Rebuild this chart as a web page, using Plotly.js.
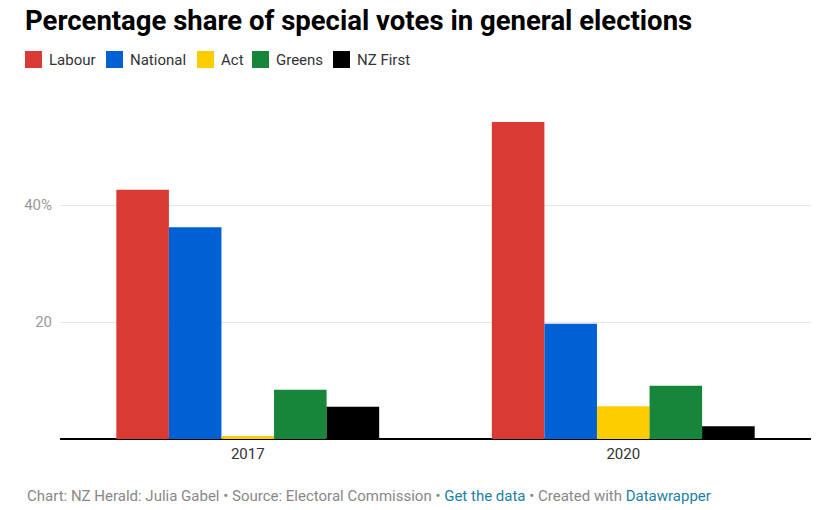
<!DOCTYPE html>
<html>
<head>
<meta charset="utf-8">
<script src="https://cdn.plot.ly/plotly-3.0.1.min.js"></script>
<style>
  html, body { margin: 0; padding: 0; background: #fff; }
  #chart { width: 830px; height: 510px; }
</style>
</head>
<body>
<div id="chart"></div>
<script>
const years = ["2017", "2020"];
const parties = ["Labour", "National", "Act", "Greens", "NZ First"];
const labour = [42.6, 54.2];
const national = [36.2, 19.7];
const act = [0.5, 5.6];
const greens = [8.4, 9.1];
const nzFirst = [5.5, 2.2];
const colors = ["#d93a34", "#0061d5", "#fecd00", "#17863a", "#000000"];
const yTickVals = [20, 40];
const yTickText = ["20", "40%"];

const series = [labour, national, act, greens, nzFirst];
const traces = series.map((vals, i) => ({
  type: "bar",
  name: parties[i],
  x: years,
  y: vals,
  marker: { color: colors[i], line: { width: 0 } },
  hoverinfo: "none",
  showlegend: false
}));

const font = "Roboto, 'Noto Sans', sans-serif";
const W = 830, H = 510;
const M = { l: 60, r: 19, t: 90, b: 71 };
const PW = W - M.l - M.r, PH = H - M.t - M.b;
const px2x = px => (px - M.l) / PW;
const px2y = py => (H - M.b - py) / PH;

// legend layout (pixel positions of each key's square)
const legendSquareX = [25, 106, 197, 252, 333];
const legendSize = 17, legendTop = 51, legendTextGap = 5;

const shapes = parties.map((p, i) => ({
  type: "rect", xref: "paper", yref: "paper",
  x0: px2x(legendSquareX[i]), x1: px2x(legendSquareX[i] + legendSize),
  y0: px2y(legendTop + legendSize), y1: px2y(legendTop),
  fillcolor: colors[i], line: { width: 0 }
}));

const annotations = parties.map((p, i) => ({
  xref: "paper", yref: "paper",
  x: px2x(legendSquareX[i] + legendSize + legendTextGap),
  y: px2y(legendTop + legendSize / 2),
  xanchor: "left", yanchor: "middle",
  showarrow: false,
  text: p,
  font: { family: font, size: 15, color: "#333333" }
}));

annotations.push({
  xref: "paper", yref: "paper",
  x: px2x(25), y: px2y(496),
  xanchor: "left", yanchor: "middle",
  showarrow: false,
  align: "left",
  font: { family: font, size: 15, color: "#888888" },
  text: "Chart: NZ Herald: Julia Gabel • Source: Electoral Commission • <span style='color:#1d81a2'>Get the data</span> • Created with <span style='color:#1d81a2'>Datawrapper</span>"
});

const layout = {
  width: W,
  height: H,
  paper_bgcolor: "#ffffff",
  plot_bgcolor: "#ffffff",
  margin: M,
  barmode: "group",
  bargap: 0.3,
  bargroupgap: 0,
  showlegend: false,
  title: {
    text: "<b>Percentage share of special votes in general elections</b>",
    font: { family: font, size: 27.5, color: "#000000" },
    x: 25 / W, xref: "container", xanchor: "left",
    y: 1 - 20 / H, yref: "container", yanchor: "middle"
  },
  xaxis: {
    type: "category",
    range: [-0.5, 1.5],
    showgrid: false,
    zeroline: false,
    showline: false,
    ticks: "",
    ticklabelstandoff: 4,
    tickfont: { family: font, size: 15, color: "#333333" },
    fixedrange: true
  },
  yaxis: {
    range: [0, PH / 5.85],
    tickvals: yTickVals,
    ticktext: yTickText,
    showgrid: true,
    gridcolor: "#e6e6e6",
    gridwidth: 1,
    zeroline: true,
    zerolinecolor: "#000000",
    zerolinewidth: 1.5,
    showline: false,
    ticks: "",
    ticklabelstandoff: 7,
    tickfont: { family: font, size: 15, color: "#999999" },
    fixedrange: true
  },
  shapes: shapes,
  annotations: annotations
};

Plotly.newPlot("chart", traces, layout, { displayModeBar: false, staticPlot: true });
</script>
</body>
</html>
